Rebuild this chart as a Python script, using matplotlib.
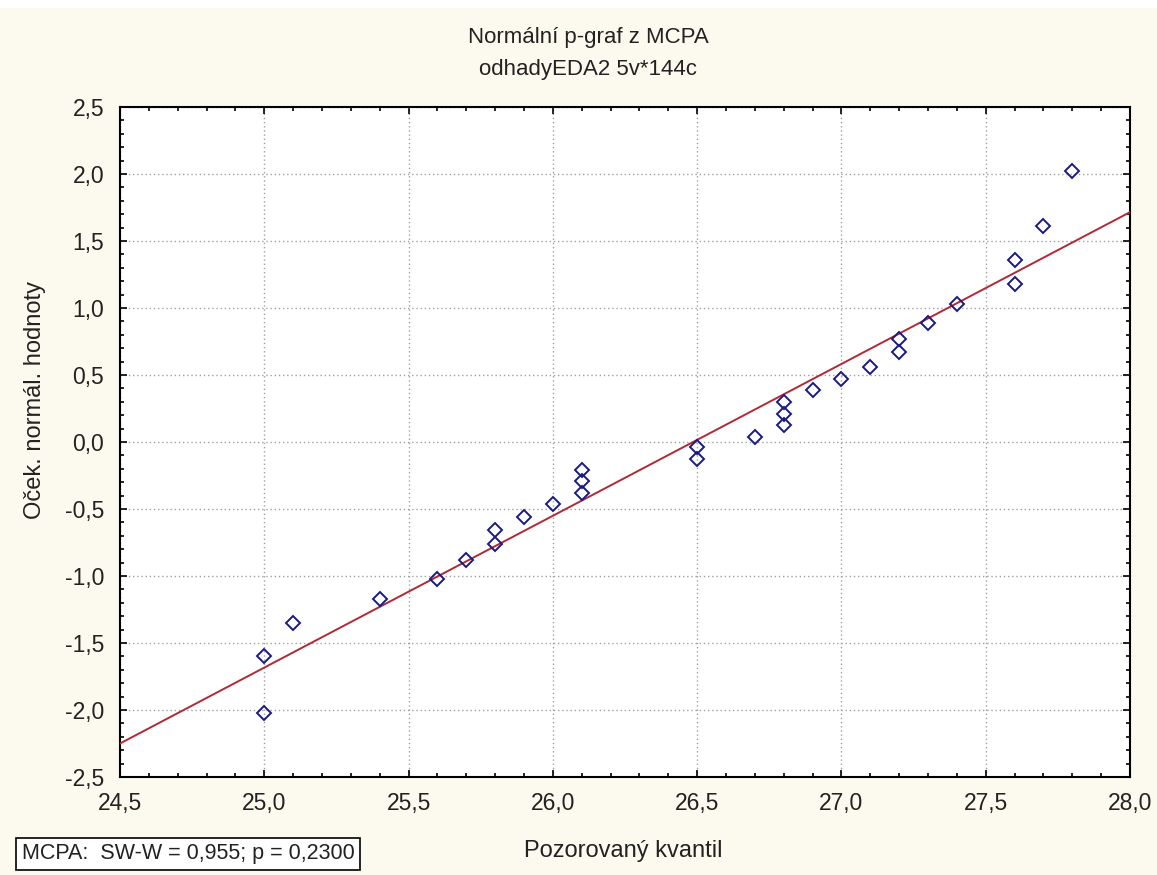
import matplotlib
matplotlib.use('Agg')
import matplotlib.pyplot as plt
from matplotlib.ticker import MultipleLocator, FuncFormatter
from matplotlib.patches import Rectangle
import numpy as np

# Pozorovaný kvantil
x_vals = [25.0, 25.0, 25.1, 25.4, 25.6, 25.7, 25.8, 25.8, 25.9, 26.0,
          26.1, 26.1, 26.1, 26.5, 26.5, 26.7, 26.8, 26.8, 26.8, 26.9,
          27.0, 27.1, 27.2, 27.2, 27.3, 27.4, 27.6, 27.6, 27.7, 27.8]
# Oček. normál. hodnoty
y_vals = [-1.60, -2.02, -1.35, -1.17, -1.02, -0.88, -0.66, -0.76, -0.56, -0.46,
          -0.21, -0.29, -0.38, -0.04, -0.13, 0.04, 0.30, 0.21, 0.13, 0.39,
          0.47, 0.56, 0.77, 0.67, 0.89, 1.03, 1.36, 1.18, 1.61, 2.02]

# prolozena primka: y = a + b*(x - 24.5)
line_a = -2.25
line_b = 1.133

title1 = 'Normální p-graf z MCPA'
title2 = 'odhadyEDA2 5v*144c'
stat_text = 'MCPA:  SW-W = 0,955; p = 0,2300'

plt.rcParams['font.family'] = ['Liberation Sans', 'DejaVu Sans']

fig = plt.figure(figsize=(11.57, 8.75), dpi=100, facecolor='#fcf9ee')
fig.patches.append(Rectangle((0, 1 - 8 / 875), 1, 8 / 875, transform=fig.transFigure,
                             facecolor='white', edgecolor='none', zorder=0))
ax = fig.add_axes([0.1037, 0.112, 0.8730, 0.7657])
ax.set_facecolor('white')

ax.set_xlim(24.5, 28.0)
ax.set_ylim(-2.5, 2.5)

xx = np.array([24.5, 28.0])
ax.plot(xx, line_a + line_b * (xx - 24.5), color='#b02a36', linewidth=1.4, zorder=3)
ax.plot(x_vals, y_vals, linestyle='none', marker='D', markersize=7.5,
        markerfacecolor='none', markeredgecolor='#1a1a80', markeredgewidth=1.4, zorder=4)

ax.xaxis.set_major_locator(MultipleLocator(0.5))
ax.xaxis.set_minor_locator(MultipleLocator(0.1))
ax.yaxis.set_major_locator(MultipleLocator(0.5))
ax.yaxis.set_minor_locator(MultipleLocator(0.1))
fmt = FuncFormatter(lambda v, p: ('%.1f' % v).replace('.', ','))
ax.xaxis.set_major_formatter(fmt)
ax.yaxis.set_major_formatter(fmt)

ax.tick_params(which='both', direction='in', top=True, right=True, color='black')
ax.tick_params(which='major', length=5, width=1.2)
ax.tick_params(which='minor', length=3, width=1.2)
ax.tick_params(axis='x', which='major', labelsize=16.5, pad=11, labelcolor='#222222')
ax.tick_params(axis='y', which='major', labelsize=16.5, pad=11.5, labelcolor='#222222')
for s in ax.spines.values():
    s.set_linewidth(1.5)
    s.set_color('black')

ax.grid(True, which='major', linestyle=(0, (1, 2)), color='#a0a0a0', linewidth=1.0)
ax.set_axisbelow(True)

fig.text(588 / 1157, 1 - 38 / 875, title1, ha='center', va='center', fontsize=16, color='#222222')
fig.text(588 / 1157, 1 - 69 / 875, title2, ha='center', va='center', fontsize=16, color='#222222')
fig.text(623 / 1157, 1 - 851 / 875, 'Pozorovaný kvantil', ha='center', va='center',
         fontsize=17, color='#222222')
fig.text(35 / 1157, 1 - 400 / 875, 'Oček. normál. hodnoty', ha='center', va='center',
         rotation=90, fontsize=17, color='#222222')
fig.text(188 / 1157, 1 - 854 / 875, stat_text, ha='center', va='center', fontsize=15.5,
         color='#222222',
         bbox=dict(boxstyle='square,pad=0.25', facecolor='white', edgecolor='black', linewidth=1.2))

fig.savefig('out.png', dpi=100, facecolor=fig.get_facecolor())
